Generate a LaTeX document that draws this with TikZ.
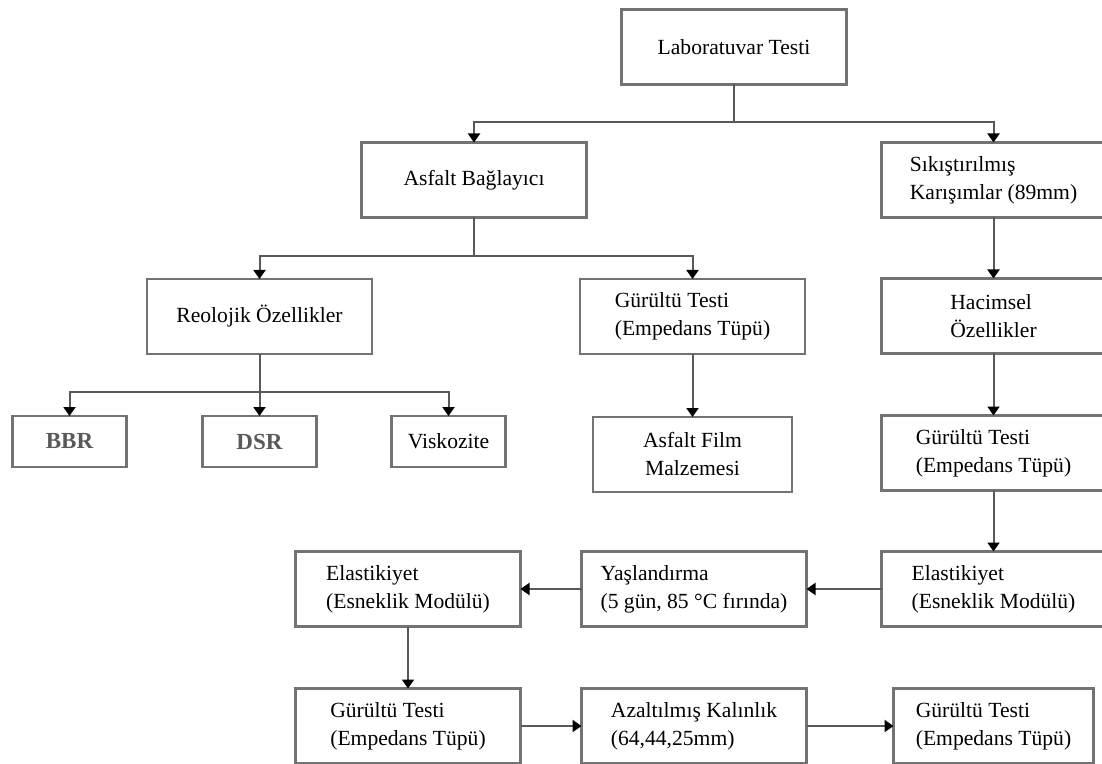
\documentclass[tikz,border=0pt]{standalone}
\usepackage{fontspec}
\setmainfont{Liberation Serif}
\usepackage{tikz}
\usetikzlibrary{positioning,arrows.meta}

\newcommand\metin{\fontsize{10.8}{14}\selectfont}
\newcommand\kalin{\fontsize{11.5}{14}\selectfont\bfseries\color{black!65}}

\begin{document}
\begin{tikzpicture}[x=0.5pt,y=-0.5pt,
   kutu/.style={draw=black!55,line width=1.2pt,fill=white,minimum width=112.5pt,
     minimum height=37.5pt,align=left,inner sep=2pt,outer sep=0pt,font=\metin},
   kucuk/.style={kutu,minimum width=57pt,minimum height=25.5pt},
   ok/.style={draw=black!65,line width=1pt,-{Triangle[length=4.5pt,width=6pt,color=black]}}]
  \clip (0,0) rectangle (1102,764);
  \fill[white] (0,0) rectangle (1102,764);

  % ust seviye
  \node[kutu] (lab) at (734,47) {Laboratuvar Testi};
  \node[kutu,below left=29pt and 17.5pt of lab] (asfalt) {Asfalt Bağlayıcı};
  \node[kutu,minimum width=112pt,below right=29pt and 17.5pt of lab] (sikis)
     {Sıkıştırılmış\\Karışımlar (89mm)};

  % asfalt baglayici kolu
  \node[kutu] (reo) at (259.5,316.5) {Reolojik Özellikler};
  \node[kutu] (gurA) at (692.5,316.5) {Gürültü Testi\\(Empedans Tüpü)};
  \node[kucuk,font=\kalin,below=31pt of reo] (dsr) {DSR};
  \node[kucuk,font=\kalin,left=38pt of dsr] (bbr) {BBR};
  \node[kucuk,right=37.5pt of dsr] (visk) {Viskozite};
  \node[kutu,align=center,minimum width=99.5pt,below=31.5pt of gurA] (film)
     {Asfalt Film\\Malzemesi};

  % sikistirilmis karisim kolu
  \node[kutu,minimum width=112pt,below=30.5pt of sikis] (hacim) {Hacimsel\\Özellikler};
  \node[kutu,minimum width=112pt,below=31pt of hacim] (gurB) {Gürültü Testi\\(Empedans Tüpü)};
  \node[kutu,minimum width=112pt,below=30.5pt of gurB] (elasR) {Elastikiyet\\(Esneklik Modülü)};
  \node[kutu,left=37.5pt of elasR] (yasl) {Yaşlandırma\\(5 gün, 85 °C fırında)};
  \node[kutu,left=30.5pt of yasl] (elasL) {Elastikiyet\\(Esneklik Modülü)};
  \node[kutu,below=31pt of elasL] (gurC) {Gürültü Testi\\(Empedans Tüpü)};
  \node[kutu,right=30.5pt of gurC] (azalt) {Azaltılmış Kalınlık\\(64,44,25mm)};
  \node[kutu,minimum width=100pt,right=43.5pt of azalt] (gurD) {Gürültü Testi\\(Empedans Tüpü)};

  % baglantilar
  \draw[ok] (lab.south) -- ++(0,-19pt) -| (asfalt.north);
  \draw[ok] (lab.south) -- ++(0,-19pt) -| (sikis.north);
  \draw[ok] (asfalt.south) -- ++(0,-19.5pt) -| (reo.north);
  \draw[ok] (asfalt.south) -- ++(0,-19.5pt) -| (gurA.north);
  \draw[ok] (reo.south) -- ++(0,-19pt) -| (bbr.north);
  \draw[ok] (reo.south) -- (dsr.north);
  \draw[ok] (reo.south) -- ++(0,-19pt) -| (visk.north);
  \draw[ok] (gurA.south) -- (film.north);
  \draw[ok] (sikis.south) -- (hacim.north);
  \draw[ok] (hacim.south) -- (gurB.north);
  \draw[ok] (gurB.south) -- (elasR.north);
  \draw[ok] (elasR.west) -- (yasl.east);
  \draw[ok] (yasl.west) -- (elasL.east);
  \draw[ok] (elasL.south) -- (gurC.north);
  \draw[ok] (gurC.east) -- (azalt.west);
  \draw[ok] (azalt.east) -- (gurD.west);
\end{tikzpicture}
\end{document}
